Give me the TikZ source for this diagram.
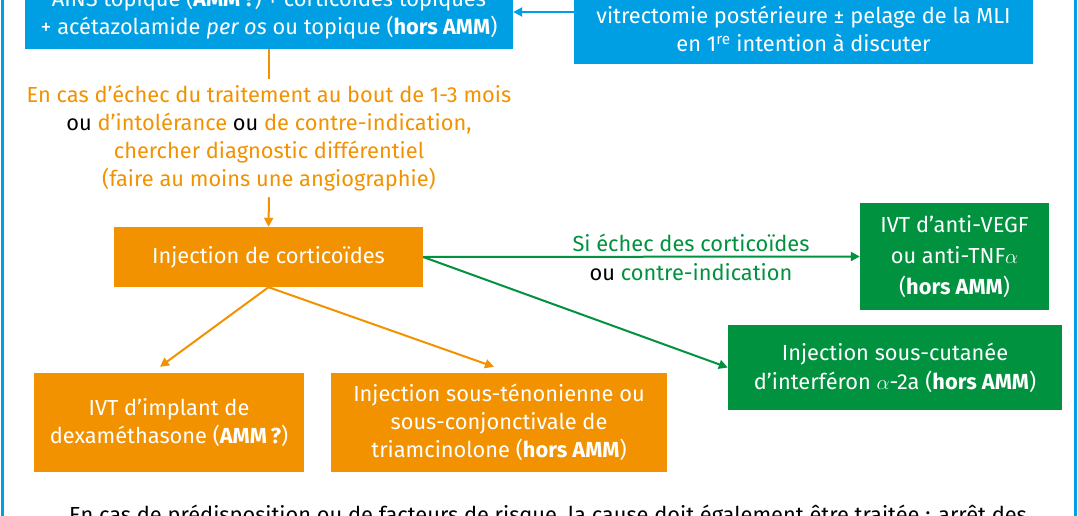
\documentclass[tikz,border=0pt]{standalone}
\usepackage{fontspec}
\setmainfont{Fira Sans}
\usetikzlibrary{arrows.meta}
\definecolor{bluec}{RGB}{0,159,227}
\definecolor{orangec}{RGB}{243,146,0}
\definecolor{greenc}{RGB}{0,146,63}
\begin{document}
\begin{tikzpicture}[x=1pt,y=-1pt,
  txt/.style={font=\fontsize{21.8}{28}\selectfont, align=center, inner sep=0pt},
  box/.style={txt, rectangle, text=white},
  bbox/.style={box, fill=bluec},
  obox/.style={box, fill=orangec},
  gbox/.style={box, fill=greenc},
  tipx/.style={-{Triangle[length=9pt,width=9pt]}},
  bline/.style={draw=bluec, line width=2pt},
  oline/.style={draw=orangec, line width=2pt},
  gline/.style={draw=greenc, line width=2pt}]
\useasboundingbox (0,0) rectangle (1078,516);
\clip (0,0) rectangle (1078,516);
\fill[white] (0,0) rectangle (1078,516);
% frame
\draw[bluec, line width=3pt] (2,-10) rectangle (1075,530);
% top boxes
\node[bbox, minimum width=488pt, minimum height=70pt] (lbox) at (269,14)
  {AINS topique (\textbf{AMM\,?}) + corticoïdes topiques\\+ acétazolamide \textit{per os} ou topique (\textbf{hors AMM})};
\node[bbox, minimum width=459pt, minimum height=98pt] (rbox) at (803.5,15) {};
\node[txt, text=white] (rtext) at (803.5,29)
  {vitrectomie postérieure ± pelage de la MLI\\en 1\textsuperscript{re} intention à discuter};
% condition text
\node[txt, text=orangec, inner ysep=6pt] (cond) at (269,138)
  {En cas d’échec du traitement au bout de 1-3 mois\\
   {\color{black}ou} d’intolérance {\color{black}ou} de contre-indication,\\
   chercher diagnostic différentiel\\
   (faire au moins une angiographie)};
% corticoides
\node[obox, minimum width=309pt, minimum height=60pt] (cortico) at (268.5,257) {Injection de corticoïdes};
\node[gbox, minimum width=189pt, minimum height=107pt, font=\fontsize{21.8}{31}\selectfont] (vegf) at (954.5,256.5)
  {IVT d’anti-VEGF\\ou anti-TNF$\alpha$\\(\textbf{hors AMM})};
\node[gbox, minimum width=334pt, minimum height=85pt, font=\fontsize{21.8}{29}\selectfont] (interf) at (895,367.5)
  {Injection sous-cutanée\\d’interféron $\alpha$-2a (\textbf{hors AMM})};
\node[obox, minimum width=270pt, minimum height=99pt] (implant) at (169,422.5)
  {IVT d’implant de\\dexaméthasone (\textbf{AMM\,?})};
\node[obox, minimum width=336pt, minimum height=99pt] (triam) at (499,422.5)
  {Injection sous-ténonienne ou\\sous-conjonctivale de\\triamcinolone (\textbf{hors AMM})};
% label
\node[txt, font=\fontsize{21.8}{29}\selectfont] (lab) at (691,257.5)
  {{\color{greenc}Si échec des corticoïdes}\\ou {\color{greenc}contre-indication}};
% bottom note
\node[txt, anchor=base] (note) at (548,522)
  {En cas de prédisposition ou de facteurs de risque, la cause doit également être traitée : arrêt des};
% connectors
\draw[bline, tipx] ([yshift=3pt]rbox.west) -- ([yshift=2pt]lbox.east);
\draw[oline] (lbox.south) -- (cond.north);
\draw[oline, tipx] (cond.south) -- (cortico.north);
\draw[oline, tipx] (cortico.south) -- ([xshift=-9pt,yshift=6pt]implant.north);
\draw[oline, tipx] (cortico.south) -- ([xshift=-5pt,yshift=6pt]triam.north);
\draw[gline, tipx] (cortico.east) -- (vegf.west);
\draw[gline, tipx] (cortico.east) -- (interf.west);
\end{tikzpicture}
\end{document}
